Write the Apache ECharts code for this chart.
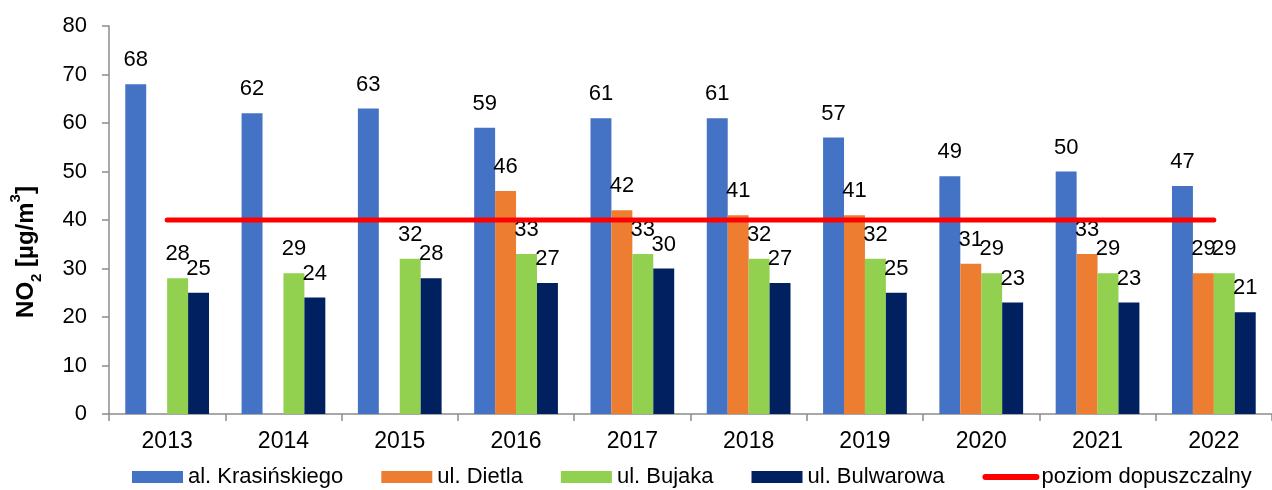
<!DOCTYPE html>
<html>
<head>
<meta charset="utf-8">
<script src="https://cdn.jsdelivr.net/npm/echarts@6/dist/echarts.min.js"></script>
<style>
  html, body { margin: 0; padding: 0; background: #fff; }
  #chart { width: 1272px; height: 490px; }
</style>
</head>
<body>
<div id="chart"></div>
<script>
// data
var years = ["2013", "2014", "2015", "2016", "2017", "2018", "2019", "2020", "2021", "2022"];
var krasinskiego = [68, 62, 63, 59, 61, 61, 57, 49, 50, 47];
var dietla = [null, null, null, 46, 42, 41, 41, 31, 33, 29];
var bujaka = [28, 29, 32, 33, 33, 32, 32, 29, 29, 29];
var bulwarowa = [25, 24, 28, 27, 30, 27, 25, 23, 23, 21];
var limit = [40, 40, 40, 40, 40, 40, 40, 40, 40, 40];
var yTicks = [0, 10, 20, 30, 40, 50, 60, 70, 80];

var font = "'Liberation Sans', Arial, sans-serif";
var axisGray = "#8c8c8c";

function barSeries(name, data, color) {
  return {
    name: name,
    type: "bar",
    data: data,
    barGap: "0%",
    barCategoryGap: "28%",
    itemStyle: { color: color },
    label: {
      show: true,
      position: "top",
      distance: 13,
      color: "#000",
      fontSize: 22,
      fontFamily: font,
    },
  };
}

var myChart = echarts.init(document.getElementById("chart"));
var option = {
  animation: false,
  textStyle: { fontFamily: font },
  grid: { left: 106, right: 0, top: 26, bottom: 76 },
  legend: {
    top: 466,
    left: 132,
    padding: 0,
    itemWidth: 51,
    itemHeight: 12,
    itemGap: 38,
    textStyle: { fontSize: 22, color: "#000", fontFamily: font },
    data: [
      { name: "al. Krasińskiego", icon: "rect" },
      { name: "ul. Dietla", icon: "rect" },
      { name: "ul. Bujaka", icon: "rect" },
      { name: "ul. Bulwarowa", icon: "rect" },
      {
        name: "poziom dopuszczalny",
        itemStyle: { opacity: 0 },
        lineStyle: { width: 6, cap: "round", color: "#FF0000" },
      },
    ],
  },
  xAxis: {
    type: "category",
    data: years,
    axisLine: { lineStyle: { color: axisGray, width: 1.5 } },
    axisTick: { show: true, length: 7, lineStyle: { color: axisGray, width: 1.5 } },
    axisLabel: { color: "#000", fontSize: 23, margin: 16, fontFamily: font },
  },
  yAxis: {
    type: "value",
    min: yTicks[0],
    max: yTicks[yTicks.length - 1],
    interval: 10,
    splitLine: { show: false },
    axisLine: { show: true, lineStyle: { color: axisGray, width: 1.5 } },
    axisTick: { show: true, length: 7, lineStyle: { color: axisGray, width: 1.5 } },
    axisLabel: { color: "#000", fontSize: 22, margin: 22, fontFamily: font },
    name: "{b|NO}{sub|2}{b| [µg/m}{sup|3}{b|]}",
    nameLocation: "middle",
    nameGap: 68,
    nameTextStyle: {
      padding: [0, 64, 0, 0],
      rich: {
        b: { fontSize: 24, fontWeight: "bold", color: "#000", fontFamily: font, lineHeight: 30 },
        sub: { fontSize: 15, fontWeight: "bold", color: "#000", fontFamily: font, lineHeight: 30, verticalAlign: "bottom", padding: [0, 0, -3, 0] },
        sup: { fontSize: 15, fontWeight: "bold", color: "#000", fontFamily: font, lineHeight: 30, verticalAlign: "top", padding: [-3, 0, 0, 0] },
      },
    },
  },
  series: [
    barSeries("al. Krasińskiego", krasinskiego, "#4472C4"),
    barSeries("ul. Dietla", dietla, "#ED7D31"),
    barSeries("ul. Bujaka", bujaka, "#92D050"),
    barSeries("ul. Bulwarowa", bulwarowa, "#002060"),
    {
      name: "poziom dopuszczalny",
      type: "line",
      data: limit,
      symbol: "none",
      itemStyle: { color: "#FF0000" },
      lineStyle: { color: "#FF0000", width: 5, cap: "round" },
      z: 3,
    },
  ],
};
myChart.setOption(option);
</script>
</body>
</html>
